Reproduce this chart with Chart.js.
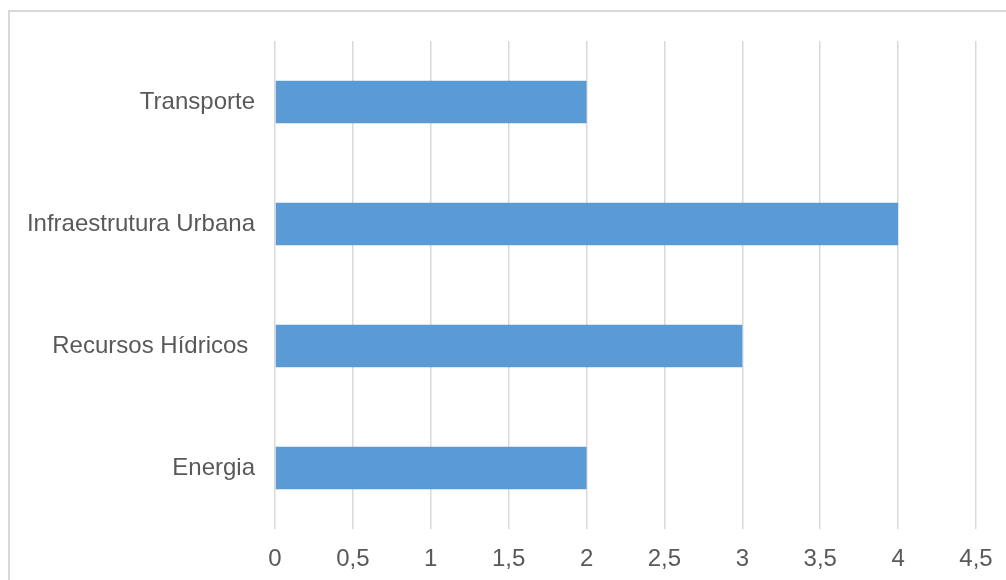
<!DOCTYPE html>
<html>
<head>
<meta charset="utf-8">
<script src="https://cdn.jsdelivr.net/npm/chart.js@4"></script>
<style>
  html, body { margin: 0; padding: 0; background: #fff; overflow: hidden; }
  #frame { position: absolute; left: 8px; top: 10px; width: 1100px; height: 700px;
           border-top: 2px solid #d9d9d9; border-left: 2px solid #d9d9d9; }
  #wrap { position: absolute; left: 0; top: 0; width: 1006px; height: 580px; }
</style>
</head>
<body>
<div id="frame"></div>
<div id="wrap"><canvas id="barChart"></canvas></div>
<script>
const categories = ['Transporte', 'Infraestrutura Urbana', 'Recursos Hídricos ', 'Energia'];
const values = [2, 4, 3, 2];
const tickValues = [0, 0.5, 1, 1.5, 2, 2.5, 3, 3.5, 4, 4.5];

const textColor = '#595959';
const fontFamily = '"Liberation Sans", Arial, sans-serif';

const ctx = document.getElementById('barChart');
new Chart(ctx, {
    type: 'bar',
    data: {
        labels: categories,
        datasets: [{
            data: values,
            backgroundColor: '#5b9bd5',
            borderWidth: 0,
            categoryPercentage: 1,
            barPercentage: 0.35
        }]
    },
    options: {
        indexAxis: 'y',
        responsive: true,
        maintainAspectRatio: false,
        animation: false,
        layout: { padding: { top: 41, right: 30, bottom: 0, left: 0 } },
        plugins: { legend: { display: false }, tooltip: { enabled: false } },
        scales: {
            x: {
                min: 0,
                max: 4.5,
                afterBuildTicks: s => { s.ticks = tickValues.map(v => ({ value: v })); },
                afterFit: s => { s.height = 51; s.paddingRight = 0; s.paddingLeft = 0; },
                border: { display: false },
                grid: { color: '#d9d9d9', lineWidth: 1.5, drawTicks: false },
                ticks: {
                    color: textColor,
                    padding: 16,
                    font: { family: fontFamily, size: 24 },
                    callback: v => String(v).replace('.', ',')
                }
            },
            y: {
                afterFit: s => { s.width = 275; },
                border: { display: false },
                grid: { display: false, drawTicks: false },
                ticks: {
                    color: textColor,
                    padding: 20,
                    font: { family: fontFamily, size: 24 }
                }
            }
        }
    }
});
</script>
</body>
</html>
